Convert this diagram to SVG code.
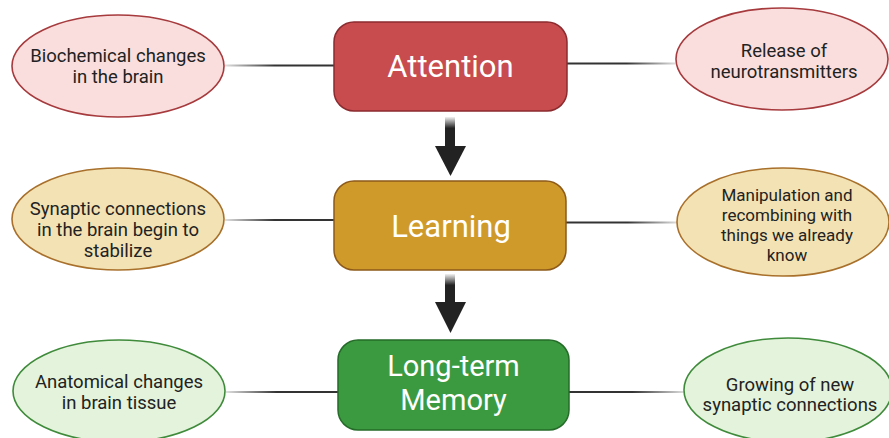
<svg xmlns="http://www.w3.org/2000/svg" width="889" height="438" viewBox="0 0 889 438">
  <defs>
    <style>
      .etext { font-family: Roboto, "Liberation Sans", sans-serif; font-size: 18.5px; fill: #222; text-anchor: middle; }
      .etight { font-size: 17px; }
      .btext { font-family: Roboto, "Liberation Sans", sans-serif; font-size: 31px; fill: #fff; text-anchor: middle; }
      .bsmall { font-size: 29px; }
      .pink { fill: #f9dedd; stroke: #a63a3d; stroke-width: 1.6; }
      .tan { fill: #f3e2b3; stroke: #a8702b; stroke-width: 1.6; }
      .lgreen { fill: #e4f3db; stroke: #3f8b3b; stroke-width: 1.6; }
      .red { fill: #c84b4e; stroke: #8a2b2f; stroke-width: 1.5; }
      .gold { fill: #cf9a2a; stroke: #8d5a1a; stroke-width: 1.5; }
      .green { fill: #3b9a3f; stroke: #256b29; stroke-width: 1.5; }
      .conn { stroke-width: 2; fill: none; }
    </style>
    <linearGradient id="gL1" gradientUnits="userSpaceOnUse" x1="226" y1="0" x2="334" y2="0">
      <stop offset="0" stop-color="#dddddd"/><stop offset="0.45" stop-color="#333"/><stop offset="1" stop-color="#333"/>
    </linearGradient>
    <linearGradient id="gR1" gradientUnits="userSpaceOnUse" x1="567" y1="0" x2="675" y2="0">
      <stop offset="0" stop-color="#333"/><stop offset="0.55" stop-color="#333"/><stop offset="1" stop-color="#dddddd"/>
    </linearGradient>
    <linearGradient id="gL2" gradientUnits="userSpaceOnUse" x1="226" y1="0" x2="334" y2="0">
      <stop offset="0" stop-color="#dddddd"/><stop offset="0.45" stop-color="#333"/><stop offset="1" stop-color="#333"/>
    </linearGradient>
    <linearGradient id="gR2" gradientUnits="userSpaceOnUse" x1="567" y1="0" x2="677" y2="0">
      <stop offset="0" stop-color="#333"/><stop offset="0.55" stop-color="#333"/><stop offset="1" stop-color="#dddddd"/>
    </linearGradient>
    <linearGradient id="gL3" gradientUnits="userSpaceOnUse" x1="227" y1="0" x2="338" y2="0">
      <stop offset="0" stop-color="#dddddd"/><stop offset="0.45" stop-color="#333"/><stop offset="1" stop-color="#333"/>
    </linearGradient>
    <linearGradient id="gR3" gradientUnits="userSpaceOnUse" x1="569" y1="0" x2="684" y2="0">
      <stop offset="0" stop-color="#333"/><stop offset="0.55" stop-color="#333"/><stop offset="1" stop-color="#dddddd"/>
    </linearGradient>
    <linearGradient id="gA" x1="0" y1="0" x2="0" y2="1">
      <stop offset="0" stop-color="#f2f2f2"/><stop offset="0.35" stop-color="#222"/><stop offset="1" stop-color="#222"/>
    </linearGradient>
  </defs>

  <g id="connectors">
    <line class="conn" x1="225" y1="65.5" x2="334" y2="65.5" stroke="url(#gL1)"/>
    <line class="conn" x1="567" y1="63.5" x2="675" y2="63.5" stroke="url(#gR1)"/>
    <line class="conn" x1="225" y1="220" x2="334" y2="220" stroke="url(#gL2)"/>
    <line class="conn" x1="566" y1="222.5" x2="677" y2="222.5" stroke="url(#gR2)"/>
    <line class="conn" x1="226" y1="392" x2="338" y2="392" stroke="url(#gL3)"/>
    <line class="conn" x1="569" y1="392" x2="684" y2="392" stroke="url(#gR3)"/>
    <g id="arrow1">
      <rect x="445" y="117" width="10" height="32" fill="url(#gA)"/>
      <polygon points="435,146 466,146 450.5,176" fill="#222"/>
    </g>
    <g id="arrow2">
      <rect x="445" y="274" width="10" height="32" fill="url(#gA)"/>
      <polygon points="435,302 466,302 450.5,333" fill="#222"/>
    </g>
  </g>

  <g id="attention">
    <rect class="red" x="334" y="22" width="233" height="89" rx="20"/>
    <text class="btext" x="450.5" y="77">Attention</text>
  </g>
  <g id="learning">
    <rect class="gold" x="334" y="181" width="232" height="89" rx="20"/>
    <text class="btext" x="451" y="237">Learning</text>
  </g>
  <g id="longterm">
    <rect class="green" x="338" y="340" width="231" height="90" rx="20"/>
    <text class="btext bsmall" x="453.5" y="375.5">Long-term</text>
    <text class="btext bsmall" x="453.5" y="409.5">Memory</text>
  </g>

  <g id="biochemical">
    <ellipse class="pink" cx="118" cy="66" rx="106" ry="51"/>
    <text class="etext" x="118" y="62">Biochemical changes</text>
    <text class="etext" x="118" y="83">in the brain</text>
  </g>
  <g id="release">
    <ellipse class="pink" cx="782" cy="59" rx="106" ry="51"/>
    <text class="etext" x="784" y="57">Release of</text>
    <text class="etext" x="784" y="78">neurotransmitters</text>
  </g>
  <g id="synaptic">
    <ellipse class="tan" cx="118" cy="219" rx="106" ry="51"/>
    <text class="etext" x="118" y="215">Synaptic connections</text>
    <text class="etext" x="118" y="236">in the brain begin to</text>
    <text class="etext" x="118" y="257">stabilize</text>
  </g>
  <g id="manipulation">
    <ellipse class="tan" cx="783" cy="222" rx="106" ry="54"/>
    <text class="etext etight" x="787" y="201">Manipulation and</text>
    <text class="etext etight" x="787" y="221">recombining with</text>
    <text class="etext etight" x="787" y="241">things we already</text>
    <text class="etext etight" x="787" y="261">know</text>
  </g>
  <g id="anatomical">
    <ellipse class="lgreen" cx="119" cy="391" rx="106" ry="51"/>
    <text class="etext" x="119" y="388">Anatomical changes</text>
    <text class="etext" x="119" y="409">in brain tissue</text>
  </g>
  <g id="growing">
    <ellipse class="lgreen" cx="788" cy="390" rx="104" ry="52"/>
    <text class="etext" x="790" y="391">Growing of new</text>
    <text class="etext" x="790" y="411">synaptic connections</text>
  </g>
</svg>
